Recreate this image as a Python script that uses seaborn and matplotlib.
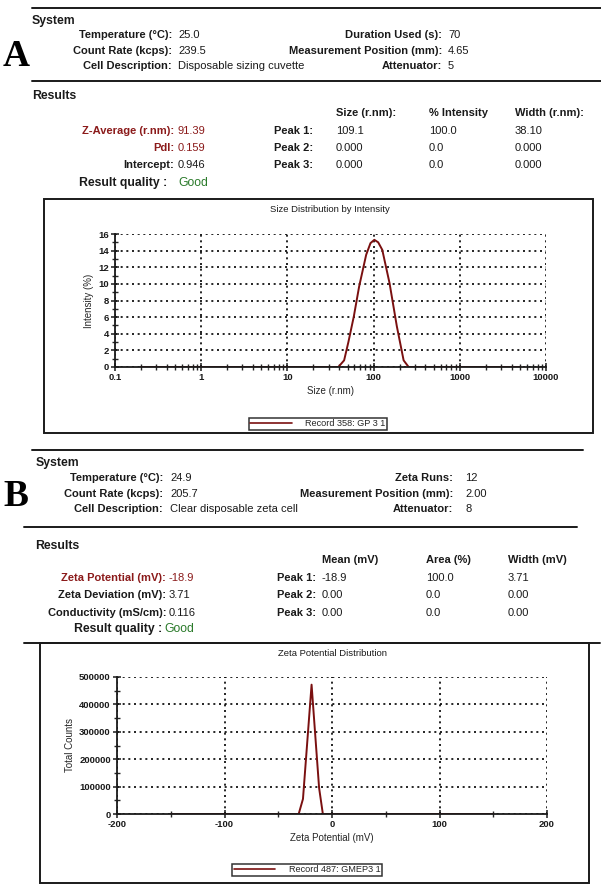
import numpy as np
import pandas as pd
import matplotlib
matplotlib.use("Agg")
import matplotlib.pyplot as plt
import matplotlib.patches as patches
from matplotlib.lines import Line2D
from matplotlib.ticker import MultipleLocator, LogLocator, FixedFormatter, FixedLocator
import seaborn as sns

sns.set_theme(style="white")
plt.rcParams['font.family'] = ['Liberation Sans', 'DejaVu Sans']
plt.rcParams['axes.unicode_minus'] = False

# ---- data ----
size_rnm = [0.2, 39, 45.5, 51, 59, 68, 82, 92, 102, 113, 126, 153, 186, 223, 255, 5000]
intensity_pct = [0, 0, 0.8, 3.0, 6.1, 9.7, 13.5, 14.9, 15.3, 15.0, 14.1, 10.1, 4.9, 0.8, 0, 0]

zeta_mv = [-150, -31, -27, -19, -12, -8.5, 150]
total_counts = [0, 0, 55000, 472000, 95000, 0, 0]

size_ticks = [0.1, 1, 10, 100, 1000, 10000]
size_tick_labels = ["0.1", "1", "10", "100", "1000", "10000"]
zeta_ticks = [-200, -100, 0, 100, 200]

sys_a_left = [("Temperature (°C):", "25.0"), ("Count Rate (kcps):", "239.5"),
              ("Cell Description:", "Disposable sizing cuvette")]
sys_a_right = [("Duration Used (s):", "70"), ("Measurement Position (mm):", "4.65"),
               ("Attenuator:", "5")]
res_a_head = ["Size (r.nm):", "% Intensity", "Width (r.nm):"]
res_a_left = [("Z-Average (r.nm):", "91.39"), ("PdI:", "0.159"), ("Intercept:", "0.946")]
res_a_peaks = [("Peak 1:", "109.1", "100.0", "38.10"), ("Peak 2:", "0.000", "0.0", "0.000"),
               ("Peak 3:", "0.000", "0.0", "0.000")]

sys_b_left = [("Temperature (°C):", "24.9"), ("Count Rate (kcps):", "205.7"),
              ("Cell Description:", "Clear disposable zeta cell")]
sys_b_right = [("Zeta Runs:", "12"), ("Measurement Position (mm):", "2.00"),
               ("Attenuator:", "8")]
res_b_head = ["Mean (mV)", "Area (%)", "Width (mV)"]
res_b_left = [("Zeta Potential (mV):", "-18.9"), ("Zeta Deviation (mV):", "3.71"),
              ("Conductivity (mS/cm):", "0.116")]
res_b_peaks = [("Peak 1:", "-18.9", "100.0", "3.71"), ("Peak 2:", "0.00", "0.0", "0.00"),
               ("Peak 3:", "0.00", "0.0", "0.00")]

RED = "#8b1a1a"
GREEN = "#2a7a2a"
LINE = "#7a1010"
INK = "#1a1a1a"
TXT = 8.0

W, H = 601, 889
fig = plt.figure(figsize=(W / 100, H / 100), dpi=100)
fig.patch.set_facecolor("white")


def fx(x):
    return x / W


def fy(y):
    return 1 - y / H


def put(x, y, s, ha="left", weight="bold", color=INK, size=TXT, **kw):
    fig.text(fx(x), fy(y), s, ha=ha, va="center", fontweight=weight,
             color=color, fontsize=size, **kw)


def hline(y, x0, x1, lw=1.4):
    fig.add_artist(Line2D([fx(x0), fx(x1)], [fy(y), fy(y)], transform=fig.transFigure,
                          color=INK, lw=lw))


def box(x0, y0, x1, y1):
    fig.add_artist(patches.Rectangle((fx(x0), fy(y1)), fx(x1) - fx(x0), fy(y0) - fy(y1),
                                     transform=fig.transFigure, fill=False, lw=1.4, ec=INK))


def header_block(sys_xy, rows_y, lab_x, val_x, rlab_x, rval_x, left, right, letter, let_y):
    put(sys_xy[0], sys_xy[1], "System", size=8.8)
    for (lab, val), y in zip(left, rows_y):
        put(lab_x, y, lab, ha="right")
        put(val_x, y, val, weight="normal")
    for (lab, val), y in zip(right, rows_y):
        put(rlab_x, y, lab, ha="right")
        put(rval_x, y, val, weight="normal")
    fig.text(fx(16), fy(let_y), letter, ha="center", va="center", fontsize=27,
             fontweight="bold", family=["Liberation Serif", "DejaVu Serif"], color="black")


def results_block(res_xy, heads, head_y, head_x, rows_y, lab_x, val_x, peak_x, left, peaks,
                  red_rows, q_y, q_x, good_x):
    put(res_xy[0], res_xy[1], "Results", size=8.8)
    for s, x in zip(heads, head_x):
        put(x, head_y, s)
    for i, ((lab, val), y) in enumerate(zip(left, rows_y)):
        c = RED if i in red_rows else INK
        put(lab_x, y, lab, ha="right", color=c)
        put(val_x, y, val, weight="normal", color=c)
    for row, y in zip(peaks, rows_y):
        put(peak_x, y, row[0], ha="right")
        for s, x in zip(row[1:], head_x):
            put(x, y, s, weight="normal")
    put(q_x, q_y, "Result quality :", ha="right", size=8.8)
    put(good_x, q_y, "Good", weight="normal", color=GREEN, size=8.8)


def style_axes(ax):
    for sp in ["top", "right"]:
        ax.spines[sp].set_visible(False)
    for sp in ["left", "bottom"]:
        ax.spines[sp].set_color(INK)
        ax.spines[sp].set_linewidth(1.3)
    ax.grid(True, which="major", color="black", linestyle=(0, (1.2, 2.2)), linewidth=1.2)
    ax.tick_params(axis="both", which="major", direction="inout", length=6, width=1.1,
                   labelsize=6.8, pad=1.5, colors=INK, left=True, bottom=True)
    ax.tick_params(axis="both", which="minor", direction="inout", length=4, width=1.0,
                   left=True, bottom=True)
    for lab in ax.get_xticklabels() + ax.get_yticklabels():
        lab.set_fontweight("bold")
    ax.set_facecolor("white")


# ---------------- Panel A ----------------
hline(8, 32, 601)
header_block((32, 21), [35, 51, 66], 172, 178, 442, 448, sys_a_left, sys_a_right, "A", 57)
hline(81, 32, 601)
results_block((32, 96), res_a_head, 113, [336, 429, 515], [131, 148, 165], 174, 178, 313,
              res_a_left, res_a_peaks, (0, 1), 183, 167, 178)
box(44, 199, 593, 433)

axA = fig.add_axes([fx(115), fy(367), fx(546) - fx(115), fy(234) - fy(367)])
dfA = pd.DataFrame({"size": size_rnm, "intensity": intensity_pct})
sns.lineplot(data=dfA, x="size", y="intensity", ax=axA, color=LINE, lw=1.4, legend=False)
axA.set_xscale("log")
axA.set_xlim(0.1, 10000)
axA.set_ylim(0, 16)
axA.xaxis.set_major_locator(FixedLocator(size_ticks))
axA.xaxis.set_major_formatter(FixedFormatter(size_tick_labels))
axA.xaxis.set_minor_locator(LogLocator(base=10, subs=np.arange(2, 10)))
axA.xaxis.set_minor_formatter(plt.NullFormatter())
axA.yaxis.set_major_locator(MultipleLocator(2))
axA.yaxis.set_minor_locator(MultipleLocator(1))
style_axes(axA)
axA.set_xlabel("Size (r.nm)", fontsize=7, labelpad=3)
axA.set_ylabel("Intensity (%)", fontsize=7, labelpad=3)
fig.text(fx(330), fy(210), "Size Distribution by Intensity", ha="center", va="center",
         fontsize=6.8, color=INK)
legA = axA.legend(handles=[Line2D([], [], color=LINE, lw=1.2)], labels=["Record 358: GP 3 1"],
                  loc="center", bbox_to_anchor=(fx(318), fy(424)),
                  bbox_transform=fig.transFigure, frameon=True, fancybox=False,
                  edgecolor="black", handlelength=4.5, fontsize=6.6, borderpad=0.15,
                  handletextpad=1.5, borderaxespad=0)
legA.get_frame().set_linewidth(1.1)

# ---------------- Panel B ----------------
hline(450, 32, 583)
header_block((36, 463), [478, 494, 509], 163, 170, 453, 465, sys_b_left, sys_b_right, "B", 497)
hline(527, 24, 577)
results_block((35, 546), res_b_head, 560, [322, 426, 508], [578, 595, 613], 166, 169, 316,
              res_b_left, res_b_peaks, (0,), 629, 162, 164)
hline(643, 24, 600)
box(40, 643, 589, 883)

axB = fig.add_axes([fx(117), fy(814), fx(547) - fx(117), fy(677) - fy(814)])
dfB = pd.DataFrame({"zeta": zeta_mv, "counts": total_counts})
sns.lineplot(data=dfB, x="zeta", y="counts", ax=axB, color=LINE, lw=1.4, legend=False)
axB.set_xlim(-200, 200)
axB.set_ylim(0, 500000)
axB.xaxis.set_major_locator(FixedLocator(zeta_ticks))
axB.xaxis.set_minor_locator(MultipleLocator(50))
axB.yaxis.set_major_locator(MultipleLocator(100000))
axB.yaxis.set_minor_locator(MultipleLocator(50000))
style_axes(axB)
axB.set_xlabel("Zeta Potential (mV)", fontsize=7, labelpad=3)
axB.set_ylabel("Total Counts", fontsize=7, labelpad=3)
fig.text(fx(332), fy(654), "Zeta Potential Distribution", ha="center", va="center",
         fontsize=6.8, color=INK)
legB = axB.legend(handles=[Line2D([], [], color=LINE, lw=1.2)], labels=["Record 487: GMEP3 1"],
                  loc="center", bbox_to_anchor=(fx(307), fy(870)),
                  bbox_transform=fig.transFigure, frameon=True, fancybox=False,
                  edgecolor="black", handlelength=4.5, fontsize=6.6, borderpad=0.15,
                  handletextpad=1.5, borderaxespad=0)
legB.get_frame().set_linewidth(1.1)

fig.savefig("out.png", dpi=100, facecolor="white")
